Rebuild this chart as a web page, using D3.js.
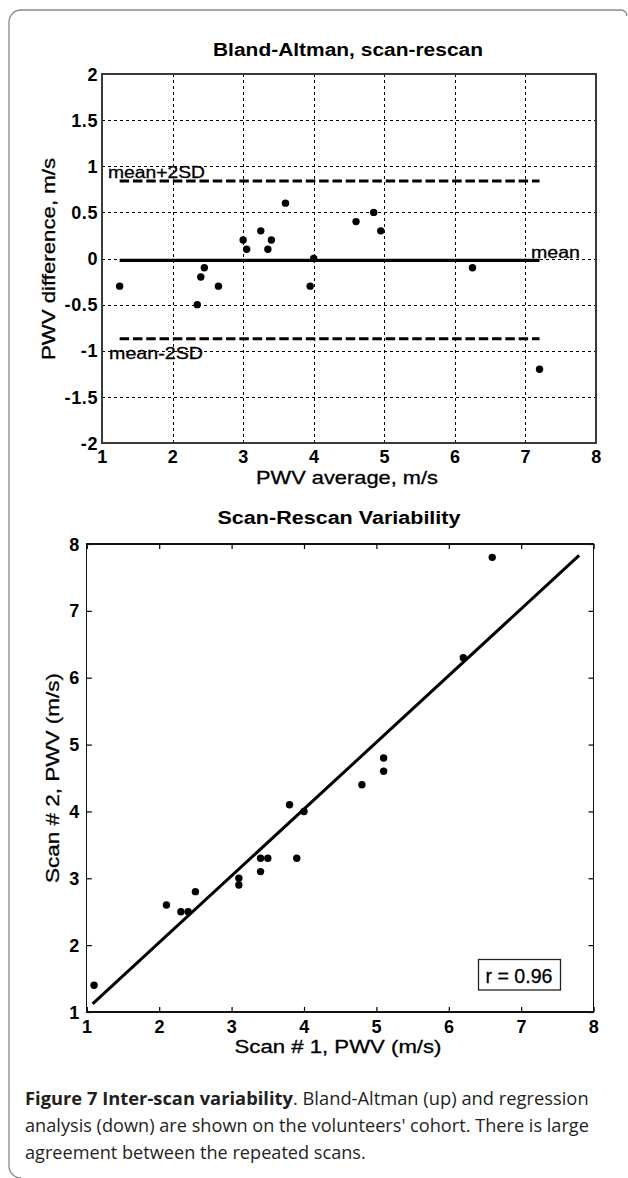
<!DOCTYPE html>
<html>
<head>
<meta charset="utf-8">
<script src="https://cdn.jsdelivr.net/npm/d3@7"></script>
<style>
  body { margin: 0; background: #fff; }
  svg { display: block; }
</style>
</head>
<body>
<div id="figure"></div>
<script>
// upper panel: Bland-Altman
const baAverage = [1.25, 2.35, 2.4, 2.45, 2.65, 3.0, 3.05, 3.25, 3.35, 3.4, 3.6, 3.95, 4.0, 4.6, 4.85, 4.95, 6.25, 7.2];
const baDifference = [-0.3, -0.5, -0.2, -0.1, -0.3, 0.2, 0.1, 0.3, 0.1, 0.2, 0.6, -0.3, 0.0, 0.4, 0.5, 0.3, -0.1, -1.2];
const limitNames = ['mean+2SD', 'mean', 'mean-2SD'];
const limitValues = [0.84, -0.02, -0.87];
const limitSpan = [1.25, 7.2];
const baXTicks = [1, 2, 3, 4, 5, 6, 7, 8];
const baYTicks = [-2, -1.5, -1, -0.5, 0, 0.5, 1, 1.5, 2];

// lower panel: scan vs rescan
const scan1 = [1.1, 2.1, 2.3, 2.4, 2.5, 3.1, 3.1, 3.4, 3.4, 3.5, 3.9, 3.8, 4.0, 4.8, 5.1, 5.1, 6.2, 6.6];
const scan2 = [1.4, 2.6, 2.5, 2.5, 2.8, 3.0, 2.9, 3.3, 3.1, 3.3, 3.3, 4.1, 4.0, 4.4, 4.6, 4.8, 6.3, 7.8];
const fitX = [1.08, 7.8];
const fitY = [1.12, 7.83];
const rLabel = 'r = 0.96';
const scTicks = [1, 2, 3, 4, 5, 6, 7, 8];

const W = 628, H = 1178;
const chartFont = '"Liberation Sans", Arial, sans-serif';
const captionFont = '"Open Sans", "Noto Sans", sans-serif';

const svg = d3.select('#figure').append('svg')
    .attr('width', W)
    .attr('height', H);

// page frame with rounded corners
svg.append('path')
    .attr('d', 'M 627 16 A 6 6 0 0 0 621 10 H 21 A 12 12 0 0 0 9 22 V 1166 A 12 12 0 0 0 21 1178')
    .attr('fill', 'none')
    .attr('stroke', '#8a8a8a')
    .attr('stroke-width', 1.3);

function label(parent, str, x, y, size, weight, anchor, width, rotate) {
    const t = parent.append('text')
        .attr('transform', rotate ? `translate(${x},${y}) rotate(-90)` : `translate(${x},${y})`)
        .attr('text-anchor', anchor)
        .style('font', `${weight} ${size}px ${chartFont}`)
        .attr('fill', '#000')
        .attr('stroke', '#000')
        .attr('stroke-width', weight === 'normal' ? 0.3 : 0)
        .text(str);
    if (width) t.attr('textLength', width).attr('lengthAdjust', 'spacingAndGlyphs');
    return t;
}

/* ---------- Bland-Altman ---------- */
const x1 = d3.scaleLinear().domain([1, 8]).range([102, 596]);
const y1 = d3.scaleLinear().domain([-2, 2]).range([443, 74]);
const upper = svg.append('g');

label(upper, 'Bland-Altman, scan-rescan', 348, 56, 18, 'bold', 'middle', 270);

const gx1 = upper.append('g')
    .attr('transform', `translate(0,${y1(-2)})`)
    .call(d3.axisBottom(x1).tickValues(baXTicks).tickSize(-(y1(-2) - y1(2))).tickFormat(d => String(d)));
const gy1 = upper.append('g')
    .attr('transform', `translate(${x1(1)},0)`)
    .call(d3.axisLeft(y1).tickValues(baYTicks).tickSize(-(x1(8) - x1(1))).tickFormat(d => String(d)));

[gx1, gy1].forEach(a => {
    a.select('.domain').remove();
    a.selectAll('.tick line')
        .attr('stroke', '#000')
        .attr('stroke-width', 1)
        .attr('stroke-dasharray', '3,3')
        .attr('shape-rendering', 'crispEdges');
    a.selectAll('.tick text')
        .style('font', `bold 18px ${chartFont}`)
        .style('letter-spacing', '0.6px')
        .attr('fill', '#000');
});
gx1.selectAll('.tick text').attr('y', 20).attr('dy', null);
gy1.selectAll('.tick text').attr('x', -4).attr('dy', '0.34em');

upper.append('rect')
    .attr('x', x1(1)).attr('y', y1(2))
    .attr('width', x1(8) - x1(1)).attr('height', y1(-2) - y1(2))
    .attr('fill', 'none')
    .attr('stroke', '#3a3a3a')
    .attr('stroke-width', 1.2)
    .attr('shape-rendering', 'crispEdges');

// mean and limits of agreement
const limitLabelPos = [[108, -3], [531, -2], [109, 20]];
limitValues.forEach((v, i) => {
    upper.append('line')
        .attr('x1', x1(limitSpan[0])).attr('x2', x1(limitSpan[1]))
        .attr('y1', y1(v)).attr('y2', y1(v))
        .attr('stroke', '#000')
        .attr('stroke-width', 3.2)
        .attr('stroke-dasharray', i === 1 ? null : '9.5,3.8');
});
limitNames.forEach((n, i) => {
    const w = [97, 49, 94][i];
    label(upper, n, limitLabelPos[i][0], y1(limitValues[i]) + limitLabelPos[i][1], 16.5, 'normal', 'start', w);
});

upper.append('g').selectAll('circle')
    .data(d3.range(baAverage.length))
    .join('circle')
    .attr('cx', i => x1(baAverage[i]))
    .attr('cy', i => y1(baDifference[i]))
    .attr('r', 3.7)
    .attr('fill', '#000');

label(upper, 'PWV average, m/s', 347, 484, 18.5, 'normal', 'middle', 182);
label(upper, 'PWV difference, m/s', 55, 259, 18.5, 'normal', 'middle', 202, true);

/* ---------- Scan-Rescan ---------- */
const x2 = d3.scaleLinear().domain([1, 8]).range([86.8, 593.6]);
const y2 = d3.scaleLinear().domain([1, 8]).range([1012, 544]);
const lower = svg.append('g');

label(lower, 'Scan-Rescan Variability', 339, 524, 18, 'bold', 'middle', 243);

const tick = 5;
const gxb = lower.append('g').attr('transform', `translate(0,${y2(1)})`)
    .call(d3.axisBottom(x2).tickValues(scTicks).tickSize(-tick).tickFormat(d => String(d)));
const gxt = lower.append('g').attr('transform', `translate(0,${y2(8)})`)
    .call(d3.axisTop(x2).tickValues(scTicks).tickSize(-tick).tickFormat(''));
const gyl = lower.append('g').attr('transform', `translate(${x2(1)},0)`)
    .call(d3.axisLeft(y2).tickValues(scTicks).tickSize(-tick).tickFormat(d => String(d)));
const gyr = lower.append('g').attr('transform', `translate(${x2(8)},0)`)
    .call(d3.axisRight(y2).tickValues(scTicks).tickSize(-tick).tickFormat(''));

[gxb, gxt, gyl, gyr].forEach(a => {
    a.select('.domain').remove();
    a.selectAll('.tick line').attr('stroke', '#000').attr('stroke-width', 1.2);
    a.selectAll('.tick text')
        .style('font', `bold 18px ${chartFont}`)
        .style('letter-spacing', '0.6px')
        .attr('fill', '#000');
});
gxb.selectAll('.tick text').attr('y', 21).attr('dy', null);
gyl.selectAll('.tick text').attr('x', -7).attr('dy', '0.34em');

lower.append('rect')
    .attr('x', x2(1)).attr('y', y2(8))
    .attr('width', x2(8) - x2(1)).attr('height', y2(1) - y2(8))
    .attr('fill', 'none')
    .attr('stroke', '#111')
    .attr('stroke-width', 1.2)
    .attr('shape-rendering', 'crispEdges');

lower.append('path')
    .datum(d3.zip(fitX, fitY))
    .attr('d', d3.line().x(d => x2(d[0])).y(d => y2(d[1])))
    .attr('fill', 'none')
    .attr('stroke', '#000')
    .attr('stroke-width', 3);

lower.append('g').selectAll('circle')
    .data(d3.range(scan1.length))
    .join('circle')
    .attr('cx', i => x2(scan1[i]))
    .attr('cy', i => y2(scan2[i]))
    .attr('r', 3.7)
    .attr('fill', '#000');

// correlation box
lower.append('rect')
    .attr('x', 478.5).attr('y', 959.5)
    .attr('width', 82).attr('height', 30.5)
    .attr('fill', '#fff')
    .attr('stroke', '#222')
    .attr('stroke-width', 1.3);
label(lower, rLabel, 519, 983, 20, 'normal', 'middle', 67);

label(lower, 'Scan # 1, PWV (m/s)', 338, 1053, 18.5, 'normal', 'middle', 207);
label(lower, 'Scan # 2, PWV (m/s)', 59, 778, 18.5, 'normal', 'middle', 210, true);

/* ---------- caption ---------- */
const captionLines = [
    [['Figure 7 Inter-scan variability', 'bold'], ['. Bland-Altman (up) and regression', 'normal']],
    [['analysis (down) are shown on the volunteers\' cohort. There is large', 'normal']],
    [['agreement between the repeated scans.', 'normal']]
];
const captionWidths = [564, 564, 341];
const captionBase = [1105, 1132, 1159];
captionLines.forEach((parts, i) => {
    const g = svg.append('g');
    const t = g.append('text')
        .style('font-family', captionFont)
        .style('font-size', '18.5px')
        .attr('fill', '#231f20');
    parts.forEach(p => t.append('tspan').style('font-weight', p[1]).text(p[0]));
    const w = t.node().getComputedTextLength();
    g.attr('transform', `translate(25,${captionBase[i]}) scale(${captionWidths[i] / w},1)`);
});
</script>
</body>
</html>
